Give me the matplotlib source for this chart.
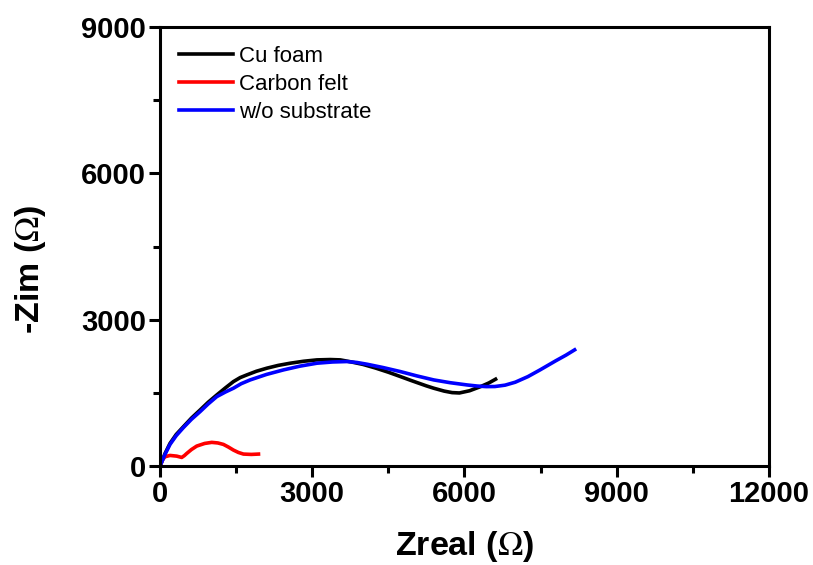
import matplotlib
matplotlib.use("Agg")
from matplotlib import pyplot as plt
from matplotlib.ticker import MultipleLocator
import numpy as np

plt.rcParams["font.family"] = ["Liberation Sans", "DejaVu Sans"]
plt.rcParams["mathtext.fontset"] = "stix"

# Nyquist data (Ohm)
cu_x = [0, 100, 197, 320, 461, 620, 790, 950, 1119, 1290, 1447, 1580, 1711,
        1900, 2106, 2330, 2566, 2830, 3093, 3356, 3553, 3750, 4000, 4250,
        4500, 4738, 4950, 5100, 5250, 5395, 5600, 5757, 5900, 6100, 6317,
        6480, 6613]
cu_y = [0, 260, 466, 650, 808, 985, 1151, 1310, 1459, 1605, 1733, 1815, 1870,
        1945, 2008, 2065, 2110, 2150, 2178, 2185, 2178, 2140, 2085, 2010,
        1925, 1836, 1755, 1700, 1645, 1597, 1538, 1507, 1500, 1545, 1630,
        1705, 1782]

cf_x = [0, 50, 99, 197, 329, 428, 480, 527, 620, 724, 880, 1020, 1140, 1250,
        1350, 1447, 1545, 1645, 1800, 1941]
cf_y = [0, 130, 192, 219, 205, 178, 215, 260, 340, 411, 465, 487, 475, 445,
        390, 329, 280, 247, 240, 247]

wo_x = [0, 100, 197, 320, 461, 620, 790, 950, 1119, 1290, 1447, 1600, 1776,
        2100, 2434, 2760, 3093, 3400, 3685, 3880, 4080, 4400, 4738, 5060,
        5395, 5720, 6053, 6250, 6428, 6600, 6800, 7000, 7250, 7490, 7800,
        8000, 8171]
wo_y = [0, 245, 445, 625, 790, 960, 1117, 1275, 1425, 1520, 1597, 1690, 1767,
        1880, 1973, 2050, 2110, 2135, 2144, 2125, 2089, 2020, 1938, 1850,
        1767, 1710, 1664, 1642, 1630, 1632, 1660, 1720, 1835, 1973, 2160,
        2275, 2384]

fig = plt.figure(figsize=(8.13, 5.65), dpi=100)
ax = fig.add_axes([0.1968, 0.175, 0.749, 0.777])

ax.plot(cu_x, cu_y, color="black", lw=2.6, label="Cu foam")
ax.plot(cf_x, cf_y, color="#ff0000", lw=2.6, label="Carbon felt")
ax.plot(wo_x, wo_y, color="#0000ff", lw=2.6, label="w/o substrate")

ax.set_xlim(0, 12000)
ax.set_ylim(0, 9000)
ax.xaxis.set_major_locator(MultipleLocator(3000))
ax.xaxis.set_minor_locator(MultipleLocator(1500))
ax.yaxis.set_major_locator(MultipleLocator(3000))
ax.yaxis.set_minor_locator(MultipleLocator(1500))
ax.tick_params(which="major", direction="out", length=8, width=2.2,
               labelsize=21, pad=2)
ax.tick_params(which="minor", direction="out", length=5, width=2.2)
for lbl in ax.get_xticklabels() + ax.get_yticklabels():
    lbl.set_fontweight("bold")
for s in ax.spines.values():
    s.set_linewidth(2.2)

ax.set_xlabel(r"Zreal ($\Omega$)", fontsize=24.5, fontweight="bold", va="center")
ax.xaxis.set_label_coords(0.5, -0.182)
ax.set_ylabel(r"-Zim ($\Omega$)", fontsize=24.5, fontweight="bold",
              va="center", ha="center")
ax.yaxis.set_label_coords(-0.212, 0.4475)

ax.legend(loc="upper left", bbox_to_anchor=(0.017, 0.978), borderaxespad=0,
          frameon=False, fontsize=16, handlelength=2.4, handletextpad=0.3,
          labelspacing=0.32)

fig.savefig("out.png", dpi=100)
